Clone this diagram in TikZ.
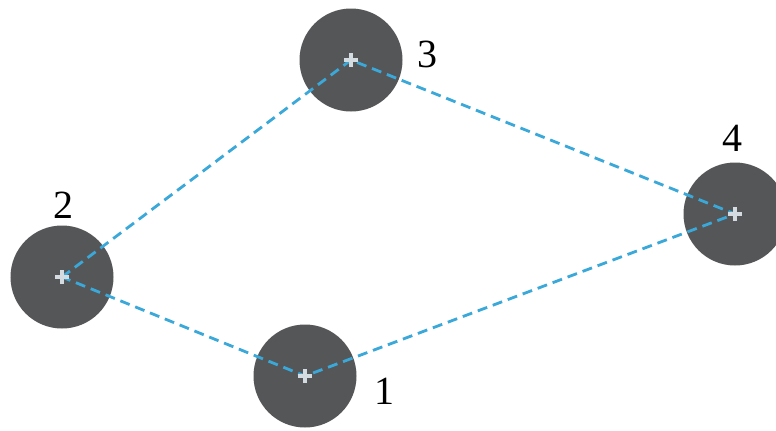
\documentclass[tikz,border=0pt]{standalone}
\usepackage{fontspec}
\setmainfont{Liberation Serif}
\definecolor{disk}{HTML}{555658}
\definecolor{link}{HTML}{3AA8D8}
\definecolor{mark}{HTML}{D4DCE2}
\begin{document}
\begin{tikzpicture}[x=1bp,y=-1bp,
  disknode/.style={circle,fill=disk,draw=none,minimum size=103bp,inner sep=0pt},
  linkline/.style={draw=link,line width=2.8bp,dash pattern=on 10bp off 6bp},
  markline/.style={draw=mark,line width=3.6bp},
  numlabel/.style={font=\fontsize{40bp}{48bp}\selectfont,inner sep=0pt,text=black}]
\useasboundingbox (0,0) rectangle (776,430);
\clip (0,0) rectangle (776,430);
\fill[white] (0,0) rectangle (776,430);
\node[disknode] (n1) at (305,376) {};
\node[disknode] (n2) at (62,277) {};
\node[disknode] (n3) at (351,60) {};
\node[disknode] (n4) at (735,214) {};
\path[linkline] (n2.center) -- (n3.center) -- (n4.center) -- (n1.center) -- (n2.center);
\foreach \n in {n1,n2,n3,n4}{
  \path[markline] ([xshift=-7bp]\n.center) -- ([xshift=7bp]\n.center);
  \path[markline] ([yshift=-7bp]\n.center) -- ([yshift=7bp]\n.center);
}
\node[numlabel] (l1) at (384,391) {1};
\node[numlabel] (l2) at (63,205) {2};
\node[numlabel] (l3) at (427,54) {3};
\node[numlabel] (l4) at (732,138) {4};
\end{tikzpicture}
\end{document}
